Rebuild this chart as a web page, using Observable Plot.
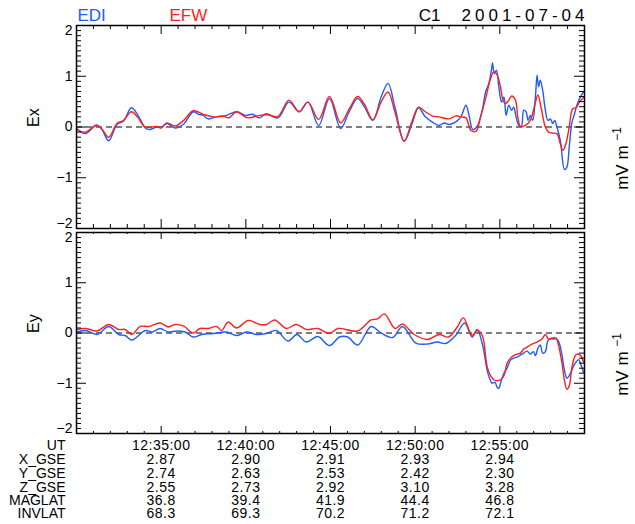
<!DOCTYPE html>
<html><head><meta charset="utf-8">
<script src="https://cdn.jsdelivr.net/npm/d3@7"></script>
<script src="https://cdn.jsdelivr.net/npm/@observablehq/plot@0.6"></script>
<style>
body{margin:0;background:#fff;}
#chart{position:relative;width:635px;height:524px;background:#fff;overflow:hidden;}
#chart svg{position:absolute;left:0;display:block;}
</style></head><body><div id="chart"></div>
<script>
// ---- data: minutes after 12:30:00 UT and field values (mV/m) ----
const exEdiMin = [0,0.53,1.18,1.5,1.9,2.39,2.78,3.24,3.6,4.06,4.3,4.75,5.0,5.33,5.82,6.3,6.9,7.2,7.49,7.78,8.27,8.86,9.45,10.0,10.4,10.8,11.2,11.9,12.55,13.14,13.67,14.3,14.94,15.6,16.1,16.6,17.0,17.5,18.0,18.4,18.8,19.35,19.8,20.2,20.6,21.0,21.4,21.7,22.0,22.4,22.7,23.0,23.2,23.4,23.66,23.96,24.16,24.35,24.5,24.57,24.67,24.8,24.94,25.1,25.24,25.37,25.53,25.69,25.82,25.96,26.12,26.27,26.41,26.55,26.67,26.8,26.94,27.1,27.2,27.29,27.39,27.53,27.69,27.84,27.98,28.12,28.24,28.37,28.57,28.82,28.96,29.1,29.25,29.41,29.55,29.75,29.94];
const exEdiVal = [-0.03,-0.13,0.04,-0.05,-0.27,0.05,0.12,0.38,0.25,-0.02,-0.05,0.0,-0.01,0.07,-0.02,0.05,0.3,0.25,0.23,0.16,0.2,0.23,0.3,0.23,0.25,0.18,0.26,0.18,0.49,0.3,0.49,0.03,0.56,-0.03,0.3,0.56,0.4,0.13,0.6,0.86,0.4,-0.28,0.05,0.38,0.2,0.1,0.03,0.08,0.05,0.1,0.2,0.43,0.2,-0.05,0.01,0.33,0.69,0.86,1.12,1.26,1.05,1.12,0.79,0.49,0.59,0.23,0.43,0.33,0.39,0.2,0.03,0.01,0.33,0.3,0.13,0.23,0.13,0.59,1.02,0.79,0.92,0.72,0.33,0.13,0.16,0.07,0.13,0,-0.26,-0.84,-0.79,-0.39,0.07,0.26,0.43,0.59,0.69];
const exEfwMin = [0,0.53,1.18,1.5,1.9,2.39,2.78,3.24,3.6,4.06,4.75,5.0,5.33,5.82,6.3,6.9,7.49,8.1,8.67,9.0,9.45,10.1,10.8,11.3,11.9,12.55,13.14,13.67,14.3,14.94,15.6,16.1,16.6,17.0,17.5,18.0,18.4,18.8,19.35,19.8,20.2,20.6,21.0,21.4,22.0,22.4,22.7,23.0,23.3,23.6,23.86,24.16,24.45,24.65,24.85,25.04,25.18,25.33,25.53,25.7,25.92,26.06,26.22,26.5,26.8,27.06,27.25,27.45,27.69,27.88,28.18,28.37,28.57,28.73,28.9,29.1,29.3,29.5,29.7,29.94];
const exEfwVal = [-0.05,-0.1,0.03,-0.04,-0.2,0.07,0.13,0.3,0.2,0.0,0.01,-0.02,0.08,0.02,0.12,0.32,0.25,0.2,0.21,0.18,0.3,0.18,0.23,0.24,0.21,0.53,0.3,0.49,0.15,0.6,0.08,0.35,0.6,0.45,0.14,0.5,0.69,0.3,-0.28,0.1,0.39,0.3,0.22,0.2,0.16,0.22,0.2,0.18,-0.07,-0.08,0.2,0.56,0.95,1.09,1.02,0.79,0.53,0.46,0.53,0.61,0.53,0.2,0.01,0.03,0.13,0.43,0.63,0.36,0,-0.1,-0.12,-0.13,-0.33,-0.46,-0.33,0,0.36,0.38,0.49,0.58];
const eyEdiMin = [0,0.53,1.22,1.9,2.49,2.88,3.27,4.06,4.45,4.94,5.43,5.92,6.41,6.9,7.39,8.08,8.86,9.45,10.04,10.63,11.22,11.8,12.49,13.02,13.57,14.25,14.94,15.53,16.02,16.61,17.4,17.98,18.67,19.25,20.04,20.73,21.31,21.8,22.39,22.92,23.37,23.66,23.96,24.25,24.39,24.55,24.71,24.84,24.94,25.08,25.24,25.43,25.63,25.82,26.02,26.22,26.41,26.61,26.8,26.98,27.1,27.25,27.39,27.53,27.69,27.84,27.98,28.18,28.37,28.51,28.67,28.82,28.96,29.1,29.25,29.45,29.65,29.78,29.94];
const eyEdiVal = [0.02,0.05,-0.03,0.13,-0.03,-0.05,-0.14,0.05,0.02,0.09,0.02,0.04,0.02,-0.08,-0.03,-0.01,0.02,-0.05,0.02,-0.03,-0.01,0.05,-0.16,-0.03,-0.18,-0.07,-0.25,-0.08,-0.08,-0.24,0.13,0.0,-0.09,0.13,-0.2,-0.22,-0.18,-0.21,-0.05,0.2,-0.08,0.07,-0.21,-0.74,-0.9,-1.0,-0.98,-1.08,-1.1,-0.95,-0.8,-0.7,-0.54,-0.5,-0.48,-0.44,-0.4,-0.36,-0.42,-0.37,-0.45,-0.3,-0.24,-0.4,-0.37,-0.15,-0.12,-0.12,-0.12,-0.2,-0.44,-0.75,-0.9,-0.85,-0.74,-0.6,-0.53,-0.62,-0.78];
const eyEfwMin = [0,0.53,1.22,1.9,2.49,2.88,3.27,3.76,4.25,4.94,5.43,5.82,6.31,6.9,7.29,7.78,8.27,8.57,8.96,9.45,10.14,10.82,11.22,11.7,12.39,12.98,13.57,14.25,14.94,15.43,16.61,17.4,17.78,18.18,18.82,19.25,19.94,20.73,21.41,21.96,22.49,22.84,23.37,23.66,23.96,24.25,24.45,24.65,24.84,25.04,25.24,25.43,25.63,25.82,26.02,26.22,26.41,26.61,26.9,27.2,27.49,27.69,27.88,28.08,28.31,28.47,28.67,28.82,28.96,29.1,29.25,29.41,29.55,29.75,29.94];
const eyEfwVal = [0.07,0.09,0.04,0.17,0.07,0.07,-0.03,0.13,0.13,0.2,0.12,0.17,0.14,0.0,0.09,0.09,0.13,0.05,0.22,0.1,0.25,0.17,0.17,0.26,0.09,0.17,0.07,0.09,-0.01,0.09,0.04,0.26,0.28,0.38,0.09,0.18,-0.03,-0.13,-0.03,-0.08,0.12,0.3,-0.05,0.05,-0.05,-0.67,-0.85,-0.93,-0.95,-0.93,-0.85,-0.6,-0.5,-0.45,-0.42,-0.4,-0.32,-0.28,-0.22,-0.18,-0.12,-0.03,-0.12,-0.1,-0.1,-0.25,-0.6,-0.95,-1.12,-1.05,-0.7,-0.48,-0.42,-0.44,-0.58];

// ---- axis / annotation text ----
const yTickValues = [-2,-1,0,1,2];
const rowLabels = ["UT","X_GSE","Y_GSE","Z_GSE","MAGLAT","INVLAT"];
const utMin = [5,10,15,20,25];
const utLabels = ["12:35:00","12:40:00","12:45:00","12:50:00","12:55:00"];
const xGse = ["2.87","2.90","2.91","2.93","2.94"];
const yGse = ["2.74","2.63","2.53","2.42","2.30"];
const zGse = ["2.55","2.73","2.92","3.10","3.28"];
const magLat = ["36.8","39.4","41.9","44.4","46.8"];
const invLat = ["68.3","69.3","70.2","71.2","72.1"];
const seriesNames = ["EDI","EFW"];
const spacecraft = "C1";
const dateLabel = "2001-07-04";
const unitMain = "mV m";
const unitExp = "\u22121";

const BLUE = "#1f5cff", RED = "#ff1e1e";
const base = Date.UTC(2001, 6, 4, 12, 30);
const toDate = m => new Date(base + m * 60000);
const mk = (ts, vs) => ts.map((t, i) => ({t: toDate(t), v: vs[i]}));

const W = 635, ML = 76, MR = 51, FW = W - ML - MR, FH = 203;
const majorX = d3.range(0, 31, 5).map(toDate);
const minorX = d3.range(0, 31).filter(m => m % 5).map(toDate);
const minorY = d3.range(-20, 21).filter(i => i % 10).map(i => i / 10);
const fmtY = d => d < 0 ? "\u2212" + Math.abs(d) : String(d);
const FONT = "'Liberation Sans', Arial, Helvetica, sans-serif";
const T = {fill: "black", lineAnchor: "middle"};

function panel({top, height, marginTop, marginBottom, edi, efw, label, extra = []}) {
  const svg = Plot.plot({
    width: W, height, marginTop, marginBottom, marginLeft: ML, marginRight: MR,
    style: {fontFamily: FONT, fontSize: "14px", background: "transparent", color: "black"},
    x: {type: "utc", domain: [toDate(0), toDate(30)], axis: null},
    y: {domain: [-2, 2], axis: null},
    marks: [
      Plot.ruleY([0], {stroke: "black", strokeDasharray: "6,4", strokeWidth: 1.2}),
      Plot.line(edi, {x: "t", y: "v", stroke: BLUE, strokeWidth: 1.4, curve: "catmull-rom"}),
      Plot.line(efw, {x: "t", y: "v", stroke: RED, strokeWidth: 1.4, curve: "catmull-rom"}),
      // inward ticks on all four sides
      Plot.tickY(yTickValues, {y: d => d, insetRight: FW - 10, stroke: "black"}),
      Plot.tickY(yTickValues, {y: d => d, insetLeft: FW - 10, stroke: "black"}),
      Plot.tickY(minorY, {y: d => d, insetRight: FW - 5, stroke: "black"}),
      Plot.tickY(minorY, {y: d => d, insetLeft: FW - 5, stroke: "black"}),
      Plot.tickX(majorX, {x: d => d, insetBottom: FH - 9, stroke: "black"}),
      Plot.tickX(majorX, {x: d => d, insetTop: FH - 9, stroke: "black"}),
      Plot.tickX(minorX, {x: d => d, insetBottom: FH - 4, stroke: "black"}),
      Plot.tickX(minorX, {x: d => d, insetTop: FH - 4, stroke: "black"}),
      Plot.frame({stroke: "black", strokeWidth: 1.5}),
      // y tick labels (end labels nudged inside the panel)
      Plot.text([-1, 0, 1], {...T, y: d => d, text: fmtY, frameAnchor: "left", dx: -4, textAnchor: "end", fontSize: 14}),
      Plot.text([2], {...T, y: d => d, text: fmtY, frameAnchor: "left", dx: -4, dy: 5, textAnchor: "end", fontSize: 14}),
      Plot.text([-2], {...T, y: d => d, text: fmtY, frameAnchor: "left", dx: -4, dy: -5, textAnchor: "end", fontSize: 14}),
      Plot.text([label], {...T, text: d => d, frameAnchor: "left", dx: -43, rotate: -90, fontSize: 16}),
      Plot.text([unitMain + " " + unitExp], {...T, text: d => d, frameAnchor: "right", dx: 38, rotate: -90, fontSize: 17}),
      ...extra
    ]
  });
  svg.style.top = top + "px";
  // superscript exponent in the unit label
  d3.select(svg).selectAll("text").filter(function() { return this.textContent === unitMain + " " + unitExp; })
    .each(function() {
      const t = d3.select(this);
      t.text(null);
      t.append("tspan").text(unitMain + " ");
      t.append("tspan").attr("dy", "-0.55em").attr("font-size", "12px").text(unitExp);
    });
  return svg;
}

const header = [
  Plot.text([seriesNames[0]], {...T, text: d => d, frameAnchor: "top-left", dx: 1, dy: -10, textAnchor: "start", fill: BLUE, fontSize: 17}),
  Plot.text([seriesNames[1]], {...T, text: d => d, frameAnchor: "top-left", dx: 93, dy: -10, textAnchor: "start", fill: RED, fontSize: 17}),
  Plot.text([spacecraft], {...T, text: d => d, frameAnchor: "top-right", dx: -144, dy: -10, textAnchor: "end", fontSize: 17}),
  Plot.text([dateLabel], {...T, text: d => d, frameAnchor: "top-right", dx: 4, dy: -10, textAnchor: "end", fontSize: 17})
];

const rows = [utLabels, xGse, yGse, zGse, magLat, invLat];
const rowDy = [12, 26, 40, 54, 67, 80];
const table = [];
rows.forEach((vals, r) => {
  table.push(Plot.text(utMin.map((m, i) => ({x: toDate(m), s: vals[i]})), {...T, x: "x", text: "s", frameAnchor: "bottom", dy: rowDy[r], fontSize: 14}));
  table.push(Plot.text([rowLabels[r]], {...T, text: d => d, frameAnchor: "bottom-left", dx: -11, dy: rowDy[r], textAnchor: "end", fontSize: 14, fontFamily: "'Liberation Sans Narrow', 'Liberation Sans', sans-serif"}));
});

const chart = document.getElementById("chart");
const p1 = panel({top: 0, height: 230, marginTop: 25, marginBottom: 2, edi: mk(exEdiMin, exEdiVal), efw: mk(exEfwMin, exEfwVal), label: "Ex", extra: header});
const p2 = panel({top: 230, height: 294, marginTop: 2, marginBottom: 91, edi: mk(eyEdiMin, eyEdiVal), efw: mk(eyEfwMin, eyEfwVal), label: "Ey", extra: table});
chart.appendChild(p1);
chart.appendChild(p2);
d3.select(p1).selectAll("text").filter(function() { return this.textContent === dateLabel; }).attr("letter-spacing", "4px");
const tableVals = new Set(rows.flat());
d3.select(p2).selectAll("text").filter(function() { return tableVals.has(this.textContent); }).attr("letter-spacing", "0.5px");
</script></body></html>
